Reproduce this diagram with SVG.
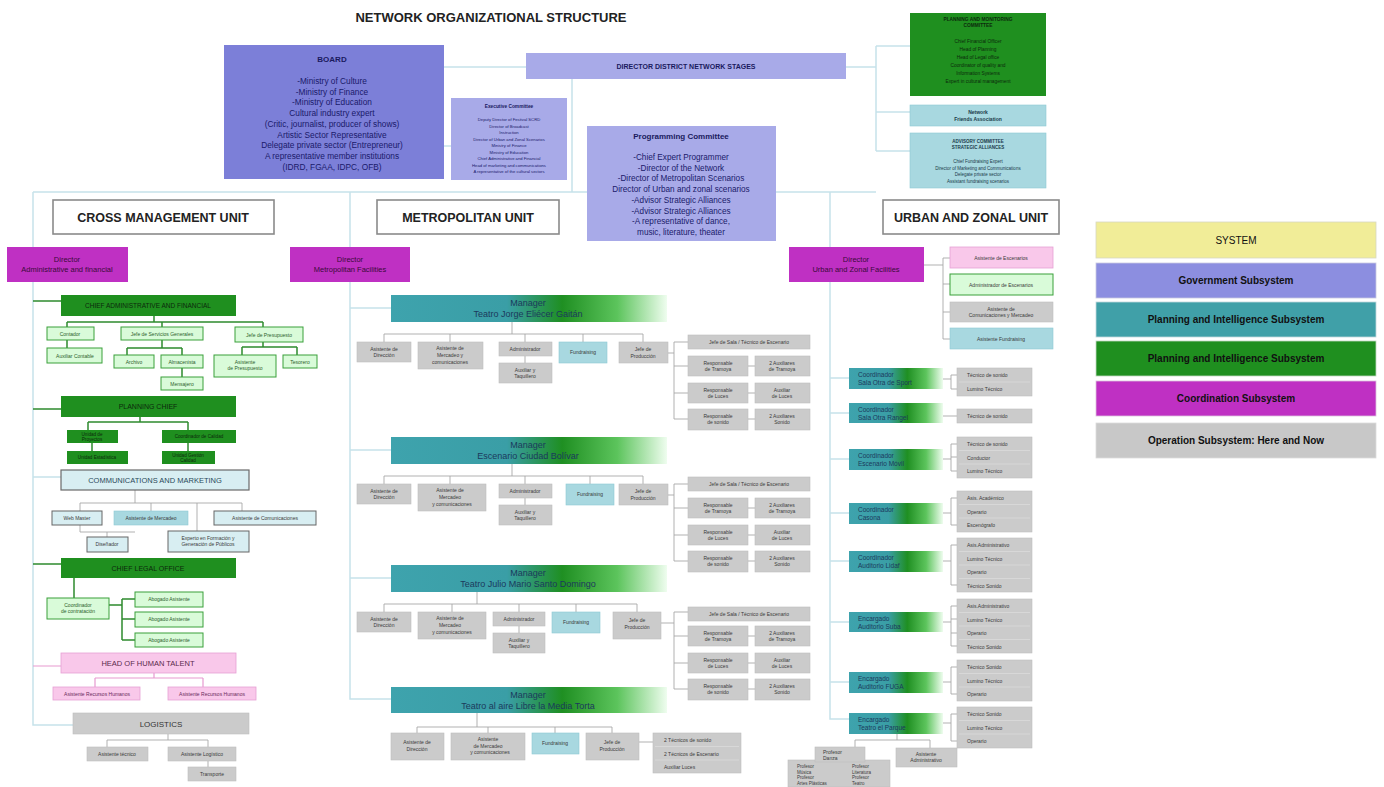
<svg xmlns="http://www.w3.org/2000/svg" width="1384" height="787" viewBox="0 0 1384 787">
<defs>
<linearGradient id="mgr" x1="0" y1="0" x2="1" y2="0">
<stop offset="0" stop-color="#3ea3ad"/>
<stop offset="0.42" stop-color="#3a9ea6"/>
<stop offset="0.62" stop-color="#1f8f22"/>
<stop offset="0.82" stop-color="#5cc45c"/>
<stop offset="1" stop-color="#effdef"/>
</linearGradient>
<style>
text{font-family:"Liberation Sans",Arial,Helvetica,sans-serif}
.c{text-anchor:middle}
.conn{fill:none;stroke:#c6e2ea;stroke-width:1.5}
.cg{fill:none;stroke:#2e8b2e;stroke-width:1.5}
.cgr{fill:none;stroke:#a8a8a8;stroke-width:0.9}
.cpk{fill:none;stroke:#e79ad0;stroke-width:1.2}
.op{fill:#cbcbcb;stroke:#bebebe;stroke-width:0.6}
.lb{fill:#a8d8e0;stroke:#8ccad4;stroke-width:0.6}
.lg{fill:#d9fbd9;stroke:#3aa03a;stroke-width:1}
.dg{fill:#1f8f1f}
.mg{fill:#bf30c3}
.pk{fill:#f9c8ea;stroke:#e6a0d4;stroke-width:0.8}
.gov{fill:#7c7fd8}
.gov2{fill:#a8aae8}
.unit{fill:#ffffff;stroke:#8a8a8a;stroke-width:1.6}
.tiny{font-size:5px;fill:#3a3a3a}
.tg{font-size:5px;fill:#2c5f2c}
.mgrt{font-size:9px;fill:#1b3a5c}
.crd{font-size:6.5px;fill:#1b3a5c}
.sep{stroke:#e0e0e0;stroke-width:0.6}
</style>
</defs>
<rect width="1384" height="787" fill="#ffffff"/>

<text x="491" y="22" class="c" style="font-size:13px;font-weight:bold;fill:#222">NETWORK ORGANIZATIONAL STRUCTURE</text>

<g id="connectors">
<!-- top -->
<path class="conn" d="M444 67H526M846 67H876M876 46V151M876 46H910M876 112H910M876 151H910M572 79V192M33 192H876M444 146H451"/>
<!-- spines -->
<path class="conn" d="M33 192V725H73M350 192V699H391M830 192V719H849"/>
<!-- left column -->
<path class="cg" d="M33 301H61M154 316V322M67 322H263M67 322V327M162 322V327M263 322V327M67 340V348M162 340V348M127 348H182M127 348V355M182 348V355M182 368V377M263 342V347M242 347H297M242 347V355M297 347V355"/>
<path class="cg" d="M33 409H61M140 417V422M88 422H188M88 422V430M188 422V430M92 443V451M188 443V451"/>
<path class="conn" d="M33 477H61"/>
<path class="cgr" d="M135 490V503M80 503H242M80 503V511M151 503V511M242 503V511M80 525V532H135M107 532V537M197 503V531"/>
<path class="cg" d="M33 564H61M74 578V598M109 605H122M122 599V640M122 599H135M122 619H135M122 640H135"/>
<path class="cpk" d="M33 666H61M154 673V678M95 678H203M95 678V687M203 678V687"/>
<path class="cgr" d="M168 734V740M107 740H208M107 740V747M208 740V747M208 761V767"/>
<!-- metropolitan groups 1-3 -->
<g id="metro-conn-1">
<path class="conn" d="M350 308H391"/>
<path class="cgr" d="M512 322V334M384 334H643M384 334V342M450 334V342M525 334V342M583 334V342M643 334V342M525 356V363M668 353H674M674 342V419M674 342H688M674 366H688M674 393H688M674 419H688M748 366H755M748 393H755M748 419H755"/>
</g>
<g transform="translate(0,142)">
<path class="conn" d="M350 308H391"/>
<path class="cgr" d="M512 322V334M384 334H643M384 334V342M450 334V342M525 334V342M590 334V342M643 334V342M525 356V363M668 353H674M674 342V419M674 342H688M674 366H688M674 393H688M674 419H688M748 366H755M748 393H755M748 419H755"/>
</g>
<g transform="translate(0,270)">
<path class="conn" d="M350 308H391"/>
<path class="cgr" d="M477 322V334M384 334H637M384 334V342M452 334V342M519 334V342M576 334V342M637 334V342M519 356V363M661 353H674M674 342V419M674 342H688M674 366H688M674 393H688M674 419H688M748 366H755M748 393H755M748 419H755"/>
</g>
<!-- metropolitan group 4 -->
<path class="cgr" d="M477 713V727M417 727H612M417 727V733M488 727V733M555 727V733M612 727V733M639 742H653"/>
<!-- urban -->
<path class="cgr" d="M924 265H943M943 258V339M943 258H950M943 284H950M943 312H950M943 339H950"/>
<path class="conn" d="M830 378H849M830 413H849M830 459H849M830 513H849M830 561H849M830 622H849M830 682H849"/>
<path class="cgr" d="M943 379H951M951 375V389M951 375H957M951 389H957M943 416H957M943 459H951M951 444V471M951 444H957M951 457H957M951 471H957M943 513H951M951 498V525M951 498H957M951 525H957M943 561H951M951 545V585M951 545H957M951 585H957M943 622H951M951 606V646M951 606H957M951 619H957M951 633H957M951 646H957M943 682H951M951 667V694M951 667H957M951 694H957M943 723H951M951 714V741M951 714H957M951 741H957M897 734V740M855 740H930M855 740V747M930 740V748"/>
</g>

<!-- Government nodes -->
<g id="board">
<rect class="gov" x="224" y="45" width="220" height="134"/>
<text x="332" y="62" class="c" style="font-size:8px;font-weight:bold;fill:#1a1a5e">BOARD</text>
<g class="c" style="font-size:8.3px;fill:#1a1a6a">
<text x="332" y="84">-Ministry of Culture</text>
<text x="332" y="94.7">-Ministry of Finance</text>
<text x="332" y="105.4">-Ministry of Education</text>
<text x="332" y="116.1">Cultural industry expert</text>
<text x="332" y="126.8">(Critic, journalist, producer of shows)</text>
<text x="332" y="137.5">Artistic Sector Representative</text>
<text x="332" y="148.2">Delegate private sector (Entrepreneur)</text>
<text x="332" y="158.9">A representative member institutions</text>
<text x="332" y="169.6">(IDRD, FGAA, IDPC, OFB)</text>
</g>
</g>
<g id="director-district">
<rect class="gov2" x="526" y="53" width="320" height="26"/>
<text x="686" y="69" class="c" style="font-size:7px;font-weight:bold;fill:#1a1a5e">DIRECTOR DISTRICT NETWORK STAGES</text>
</g>
<g id="executive-committee">
<rect class="gov2" x="451" y="98" width="116" height="82"/>
<text x="509" y="108" class="c" style="font-size:4.8px;font-weight:bold;fill:#1a1a5e">Executive Committee</text>
<g class="c" style="font-size:4.2px;fill:#1a1a6a">
<text x="509" y="121">Deputy Director of Festival SCRD</text>
<text x="509" y="127.5">Director of Broadcast</text>
<text x="509" y="134">Instruction</text>
<text x="509" y="140.5">Director of Urban and Zonal Scenarios</text>
<text x="509" y="147">Ministry of Finance</text>
<text x="509" y="153.5">Ministry of Education</text>
<text x="509" y="160">Chief Administrative and Financial</text>
<text x="509" y="166.5">Head of marketing and communications</text>
<text x="509" y="173">A representative of the cultural sectors</text>
</g>
</g>
<g id="programming-committee">
<rect class="gov2" x="587" y="126" width="189" height="115"/>
<text x="681" y="139" class="c" style="font-size:8px;font-weight:bold;fill:#1a1a5e">Programming Committee</text>
<g class="c" style="font-size:8.2px;fill:#1a1a6a">
<text x="681" y="160">-Chief Expert Programmer</text>
<text x="681" y="170.7">-Director of the Network</text>
<text x="681" y="181.4">-Director of Metropolitan Scenarios</text>
<text x="681" y="192.1">Director of Urban and zonal scenarios</text>
<text x="681" y="202.8">-Advisor Strategic Alliances</text>
<text x="681" y="213.5">-Advisor Strategic Alliances</text>
<text x="681" y="224.2">-A representative of dance,</text>
<text x="681" y="234.9">music, literature, theater</text>
</g>
</g>
<g id="planning-monitoring-committee">
<rect class="dg" x="910" y="13" width="136" height="83"/>
<g class="c" style="font-size:4.8px;fill:#0c2a0c">
<text x="978" y="21" style="font-weight:bold">PLANNING AND MONITORING</text>
<text x="978" y="27" style="font-weight:bold">COMMITTEE</text>
<text x="978" y="43">Chief Financial Officer</text>
<text x="978" y="51">Head of Planning</text>
<text x="978" y="59">Head of Legal office</text>
<text x="978" y="67">Coordinator of quality and</text>
<text x="978" y="75">Information Systems</text>
<text x="978" y="83">Expert in cultural management</text>
</g>
</g>
<g id="network-friends">
<rect class="lb" x="910" y="105" width="136" height="21"/>
<text x="978" y="114" class="c" style="font-size:5px;font-weight:bold;fill:#1a3a4a">Network</text>
<text x="978" y="121" class="c" style="font-size:5px;font-weight:bold;fill:#1a3a4a">Friends Association</text>
</g>
<g id="advisory-committee">
<rect class="lb" x="910" y="133" width="136" height="55"/>
<g class="c" style="font-size:4.5px;fill:#1a3a4a">
<text x="978" y="143" style="font-weight:bold">ADVISORY COMMITTEE</text>
<text x="978" y="149" style="font-weight:bold">STRATEGIC ALLIANCES</text>
<text x="978" y="163">Chief Fundraising Expert</text>
<text x="978" y="169.5">Director of Marketing and Communications</text>
<text x="978" y="176">Delegate private sector</text>
<text x="978" y="182.5">Assistant fundraising scenarios</text>
</g>
</g>

<!-- Unit titles -->
<g id="unit-cross">
<rect class="unit" x="53" y="200" width="221" height="34"/>
<text x="163" y="222" class="c" style="font-size:12.5px;font-weight:bold;fill:#222">CROSS MANAGEMENT UNIT</text>
</g>
<g id="unit-metro">
<rect class="unit" x="377" y="200" width="182" height="34"/>
<text x="468" y="222" class="c" style="font-size:12.5px;font-weight:bold;fill:#222">METROPOLITAN UNIT</text>
</g>
<g id="unit-urban">
<rect class="unit" x="883" y="200" width="176" height="34"/>
<text x="971" y="222" class="c" style="font-size:12.5px;font-weight:bold;fill:#222">URBAN AND ZONAL UNIT</text>
</g>

<!-- Directors -->
<g id="dir-admin">
<rect class="mg" x="7" y="247" width="121" height="35"/>
<text x="67" y="262" class="c" style="font-size:7.5px;fill:#3a0a3a">Director</text>
<text x="67" y="272" class="c" style="font-size:7.5px;fill:#3a0a3a">Administrative and financial</text>
</g>
<g id="dir-metro">
<rect class="mg" x="290" y="247" width="120" height="35"/>
<text x="350" y="262" class="c" style="font-size:7.5px;fill:#3a0a3a">Director</text>
<text x="350" y="272" class="c" style="font-size:7.5px;fill:#3a0a3a">Metropolitan Facilities</text>
</g>
<g id="dir-urban">
<rect class="mg" x="789" y="247" width="135" height="35"/>
<text x="856" y="262" class="c" style="font-size:7.5px;fill:#3a0a3a">Director</text>
<text x="856" y="272" class="c" style="font-size:7.5px;fill:#3a0a3a">Urban and Zonal Facilities</text>
</g>

<!-- Left column -->
<g id="chief-admin">
<rect class="dg" x="61" y="295" width="175" height="21"/>
<text x="148" y="308" class="c" style="font-size:6.5px;fill:#0c2a0c">CHIEF ADMINISTRATIVE AND FINANCIAL</text>
</g>
<g id="admin-children" class="c">
<rect class="lg" x="47" y="327" width="47" height="13"/><text class="tg" x="70" y="335.5">Contador</text>
<rect class="lg" x="47" y="348" width="55" height="15"/><text class="tg" x="75" y="357.5">Auxiliar Contable</text>
<rect class="lg" x="121" y="327" width="82" height="13"/><text class="tg" x="162" y="335.5">Jefe de Servicios Generales</text>
<rect class="lg" x="114" y="355" width="40" height="13"/><text class="tg" x="134" y="363.5">Archivo</text>
<rect class="lg" x="161" y="355" width="42" height="13"/><text class="tg" x="182" y="363.5">Almacenista</text>
<rect class="lg" x="161" y="377" width="42" height="13"/><text class="tg" x="182" y="385.5">Mensajero</text>
<rect class="lg" x="235" y="327" width="68" height="15"/><text class="tg" x="269" y="336.5">Jefe de Presupuesto</text>
<rect class="lg" x="214" y="355" width="62" height="22"/><text class="tg" x="245" y="364">Asistente</text><text class="tg" x="245" y="370">de Presupuesto</text>
<rect class="lg" x="283" y="355" width="34" height="13"/><text class="tg" x="300" y="363.5">Tesorero</text>
</g>
<g id="planning-chief">
<rect class="dg" x="61" y="396" width="175" height="21"/>
<text x="148" y="409" class="c" style="font-size:7px;fill:#0c2a0c">PLANNING CHIEF</text>
</g>
<g id="planning-children" class="c" style="font-size:4.6px;fill:#0c2a0c">
<rect class="dg" x="67" y="430" width="51" height="13"/><text x="92" y="435.5">Unidad de</text><text x="92" y="441">Proyectos</text>
<rect class="dg" x="67" y="451" width="61" height="13"/><text x="97" y="459">Unidad Estadística</text>
<rect class="dg" x="162" y="430" width="74" height="13"/><text x="199" y="438">Coordinador de Calidad</text>
<rect class="dg" x="162" y="451" width="53" height="13"/><text x="188" y="456.5">Unidad Gestión</text><text x="188" y="462">Calidad</text>
</g>
<g id="communications">
<rect x="61" y="470" width="188" height="20" fill="#d8eef2" stroke="#6a6a6a" stroke-width="1.2"/>
<text x="155" y="483" class="c" style="font-size:7.5px;fill:#2a4a5a">COMMUNICATIONS AND MARKETING</text>
</g>
<g id="comm-children" class="c">
<rect x="52" y="511" width="50" height="14" fill="#d8eef2" stroke="#666" stroke-width="1"/><text class="tiny" x="77" y="519.5">Web Master</text>
<rect x="114" y="511" width="74" height="14" fill="#a8d8e0" stroke="#8ccad4" stroke-width="0.6"/><text class="tiny" x="151" y="519.5">Asistente de Mercadeo</text>
<rect x="214" y="511" width="102" height="14" fill="#d8eef2" stroke="#666" stroke-width="1"/><text class="tiny" x="265" y="519.5">Asistente de Comunicaciones</text>
<rect x="87" y="537" width="41" height="15" fill="#d8eef2" stroke="#666" stroke-width="1"/><text class="tiny" x="107" y="546">Diseñador</text>
<rect x="168" y="531" width="81" height="21" fill="#d8eef2" stroke="#666" stroke-width="1"/><text class="tiny" x="208" y="540">Experto en Formación y</text><text class="tiny" x="208" y="546">Generación de Públicos</text>
</g>
<g id="chief-legal">
<rect class="dg" x="61" y="558" width="175" height="20"/>
<text x="148" y="570.5" class="c" style="font-size:7px;fill:#0c2a0c">CHIEF LEGAL OFFICE</text>
</g>
<g id="legal-children" class="c">
<rect class="lg" x="47" y="598" width="62" height="21"/><text class="tg" x="78" y="607">Coordinador</text><text class="tg" x="78" y="613">de contratación</text>
<rect class="lg" x="135" y="592" width="68" height="15"/><text class="tg" x="169" y="601">Abogado Asistente</text>
<rect class="lg" x="135" y="612" width="68" height="15"/><text class="tg" x="169" y="621">Abogado Asistente</text>
<rect class="lg" x="135" y="633" width="68" height="14"/><text class="tg" x="169" y="641.5">Abogado Asistente</text>
</g>
<g id="human-talent">
<rect class="pk" x="61" y="653" width="175" height="20"/>
<text x="148" y="666" class="c" style="font-size:7.5px;fill:#5a2a4a">HEAD OF HUMAN TALENT</text>
</g>
<g id="hr-children" class="c">
<rect class="pk" x="53" y="687" width="87" height="13"/><text class="tiny" x="97" y="695.5" style="fill:#6a2a5a">Asistente Recursos Humanos</text>
<rect class="pk" x="168" y="687" width="88" height="13"/><text class="tiny" x="212" y="695.5" style="fill:#6a2a5a">Asistente Recursos Humanos</text>
</g>
<g id="logistics">
<rect class="op" x="73" y="713" width="176" height="21"/>
<text x="161" y="726.5" class="c" style="font-size:8px;fill:#333">LOGISTICS</text>
</g>
<g id="logistics-children" class="c">
<rect class="op" x="87" y="747" width="61" height="14"/><text class="tiny" x="117" y="755.5">Asistente técnico</text>
<rect class="op" x="168" y="747" width="68" height="14"/><text class="tiny" x="202" y="755.5">Asistente Logístico</text>
<rect class="op" x="188" y="767" width="48" height="14"/><text class="tiny" x="212" y="775.5">Transporte</text>
</g>

<!-- Metropolitan groups -->
<g id="metro-gaitan">
<rect x="391" y="295" width="276" height="27" fill="url(#mgr)"/>
<text class="mgrt c" x="528" y="306">Manager</text>
<text class="mgrt c" x="528" y="317">Teatro Jorge Eliécer Gaitán</text>
<g class="c">
<rect class="op" x="357" y="342" width="54" height="20"/><text class="tiny" x="384" y="350.5">Asistente de</text><text class="tiny" x="384" y="357">Dirección</text>
<rect class="op" x="418" y="342" width="65" height="27"/><text class="tiny" x="450" y="350">Asistente de</text><text class="tiny" x="450" y="357">Mercadeo y</text><text class="tiny" x="450" y="364">comunicaciones</text>
<rect class="op" x="499" y="342" width="53" height="14"/><text class="tiny" x="525" y="351">Administrador</text>
<rect class="op" x="499" y="363" width="53" height="20"/><text class="tiny" x="525" y="371.5">Auxiliar y</text><text class="tiny" x="525" y="378">Taquillero</text>
<rect class="lb" x="559" y="342" width="48" height="21"/><text class="tiny" x="583" y="354">Fundraising</text>
<rect class="op" x="619" y="342" width="49" height="21"/><text class="tiny" x="643" y="350.5">Jefe de</text><text class="tiny" x="643" y="357.5">Producción</text>
<rect class="op" x="688" y="335" width="122" height="14"/><text class="tiny" x="749" y="344">Jefe de Sala / Técnico de Escenario</text>
<rect class="op" x="688" y="356" width="60" height="20"/><text class="tiny" x="718" y="364.5">Responsable</text><text class="tiny" x="718" y="371">de Tramoya</text>
<rect class="op" x="755" y="356" width="55" height="20"/><text class="tiny" x="782" y="364.5">2 Auxiliares</text><text class="tiny" x="782" y="371">de Tramoya</text>
<rect class="op" x="688" y="383" width="60" height="20"/><text class="tiny" x="718" y="391.5">Responsable</text><text class="tiny" x="718" y="398">de Luces</text>
<rect class="op" x="755" y="383" width="55" height="20"/><text class="tiny" x="782" y="391.5">Auxiliar</text><text class="tiny" x="782" y="398">de Luces</text>
<rect class="op" x="688" y="409" width="60" height="21"/><text class="tiny" x="718" y="417.5">Responsable</text><text class="tiny" x="718" y="424">de sonido</text>
<rect class="op" x="755" y="409" width="55" height="21"/><text class="tiny" x="782" y="417.5">2 Auxiliares</text><text class="tiny" x="782" y="424">Sonido</text>
</g>
</g>
<g id="metro-bolivar" transform="translate(0,142)">
<rect x="391" y="295" width="276" height="27" fill="url(#mgr)"/>
<text class="mgrt c" x="528" y="306">Manager</text>
<text class="mgrt c" x="528" y="317">Escenario Ciudad Bolívar</text>
<g class="c">
<rect class="op" x="357" y="342" width="54" height="20"/><text class="tiny" x="384" y="350.5">Asistente de</text><text class="tiny" x="384" y="357">Dirección</text>
<rect class="op" x="418" y="342" width="68" height="27"/><text class="tiny" x="450" y="350">Asistente de</text><text class="tiny" x="450" y="357">Mercadeo</text><text class="tiny" x="452" y="364">y comunicaciones</text>
<rect class="op" x="499" y="342" width="53" height="14"/><text class="tiny" x="525" y="351">Administrador</text>
<rect class="op" x="499" y="363" width="53" height="20"/><text class="tiny" x="525" y="371.5">Auxiliar y</text><text class="tiny" x="525" y="378">Taquillero</text>
<rect class="lb" x="566" y="342" width="48" height="21"/><text class="tiny" x="590" y="354">Fundraising</text>
<rect class="op" x="619" y="342" width="49" height="21"/><text class="tiny" x="643" y="350.5">Jefe de</text><text class="tiny" x="643" y="357.5">Producción</text>
<rect class="op" x="688" y="335" width="122" height="14"/><text class="tiny" x="749" y="344">Jefe de Sala / Técnico de Escenario</text>
<rect class="op" x="688" y="356" width="60" height="20"/><text class="tiny" x="718" y="364.5">Responsable</text><text class="tiny" x="718" y="371">de Tramoya</text>
<rect class="op" x="755" y="356" width="55" height="20"/><text class="tiny" x="782" y="364.5">2 Auxiliares</text><text class="tiny" x="782" y="371">de Tramoya</text>
<rect class="op" x="688" y="383" width="60" height="20"/><text class="tiny" x="718" y="391.5">Responsable</text><text class="tiny" x="718" y="398">de Luces</text>
<rect class="op" x="755" y="383" width="55" height="20"/><text class="tiny" x="782" y="391.5">Auxiliar</text><text class="tiny" x="782" y="398">de Luces</text>
<rect class="op" x="688" y="409" width="60" height="21"/><text class="tiny" x="718" y="417.5">Responsable</text><text class="tiny" x="718" y="424">de sonido</text>
<rect class="op" x="755" y="409" width="55" height="21"/><text class="tiny" x="782" y="417.5">2 Auxiliares</text><text class="tiny" x="782" y="424">Sonido</text>
</g>
</g>
<g id="metro-santodomingo" transform="translate(0,270)">
<rect x="391" y="295" width="276" height="27" fill="url(#mgr)"/>
<text class="mgrt c" x="528" y="306">Manager</text>
<text class="mgrt c" x="528" y="317">Teatro Julio Mario Santo Domingo</text>
<g class="c">
<rect class="op" x="357" y="342" width="54" height="20"/><text class="tiny" x="384" y="350.5">Asistente de</text><text class="tiny" x="384" y="357">Dirección</text>
<rect class="op" x="418" y="342" width="68" height="27"/><text class="tiny" x="450" y="350">Asistente de</text><text class="tiny" x="450" y="357">Mercadeo</text><text class="tiny" x="452" y="364">y comunicaciones</text>
<rect class="op" x="493" y="342" width="52" height="14"/><text class="tiny" x="519" y="351">Administrador</text>
<rect class="op" x="493" y="363" width="52" height="20"/><text class="tiny" x="519" y="371.5">Auxiliar y</text><text class="tiny" x="519" y="378">Taquillero</text>
<rect class="lb" x="552" y="342" width="48" height="21"/><text class="tiny" x="576" y="354">Fundraising</text>
<rect class="op" x="613" y="342" width="48" height="27"/><text class="tiny" x="637" y="352">Jefe de</text><text class="tiny" x="637" y="359">Producción</text>
<rect class="op" x="688" y="337" width="122" height="14"/><text class="tiny" x="749" y="346">Jefe de Sala / Técnico de Escenario</text>
<rect class="op" x="688" y="356" width="60" height="20"/><text class="tiny" x="718" y="364.5">Responsable</text><text class="tiny" x="718" y="371">de Tramoya</text>
<rect class="op" x="755" y="356" width="55" height="20"/><text class="tiny" x="782" y="364.5">2 Auxiliares</text><text class="tiny" x="782" y="371">de Tramoya</text>
<rect class="op" x="688" y="383" width="60" height="20"/><text class="tiny" x="718" y="391.5">Responsable</text><text class="tiny" x="718" y="398">de Luces</text>
<rect class="op" x="755" y="383" width="55" height="20"/><text class="tiny" x="782" y="391.5">Auxiliar</text><text class="tiny" x="782" y="398">de Luces</text>
<rect class="op" x="688" y="409" width="60" height="21"/><text class="tiny" x="718" y="417.5">Responsable</text><text class="tiny" x="718" y="424">de sonido</text>
<rect class="op" x="755" y="409" width="55" height="21"/><text class="tiny" x="782" y="417.5">2 Auxiliares</text><text class="tiny" x="782" y="424">Sonido</text>
</g>
</g>
<g id="metro-mediatorta">
<rect x="391" y="687" width="276" height="26" fill="url(#mgr)"/>
<text class="mgrt c" x="528" y="698">Manager</text>
<text class="mgrt c" x="528" y="709">Teatro al aire Libre la Media Torta</text>
<g class="c">
<rect class="op" x="391" y="733" width="53" height="27"/><text class="tiny" x="417" y="744">Asistente de</text><text class="tiny" x="417" y="751">Dirección</text>
<rect class="op" x="451" y="733" width="74" height="27"/><text class="tiny" x="488" y="741">Asistente</text><text class="tiny" x="488" y="747.5">de Mercadeo</text><text class="tiny" x="490" y="754">y comunicaciones</text>
<rect class="lb" x="532" y="733" width="47" height="21"/><text class="tiny" x="555" y="745">Fundraising</text>
<rect class="op" x="586" y="733" width="53" height="27"/><text class="tiny" x="612" y="744">Jefe de</text><text class="tiny" x="612" y="751">Producción</text>
<rect class="op" x="653" y="733" width="88" height="40"/>
<path class="sep" d="M655 746.5H739M655 760H739"/>
</g>
<text class="tiny" x="664" y="742">2 Técnicos de  sonido</text>
<text class="tiny" x="664" y="755.5">2 Técnicos de Escenario</text>
<text class="tiny" x="664" y="769">Auxiliar Luces</text>
</g>

<!-- Urban -->
<g id="urban-staff" class="c">
<rect class="pk" x="950" y="247" width="103" height="21"/><text class="tiny" x="1001" y="259.5">Asistente de Escenarios</text>
<rect class="lg" x="950" y="274" width="103" height="21"/><text class="tiny" x="1001" y="286.5">Administrador de Escenarios</text>
<rect class="op" x="950" y="302" width="103" height="20"/><text class="tiny" x="1001" y="310.5">Asistente de</text><text class="tiny" x="1001" y="317">Comunicaciones y Mercadeo</text>
<rect class="lb" x="950" y="328" width="103" height="21"/><text class="tiny" x="1001" y="340.5">Asistente Fundraising</text>
</g>
<g id="coord-1">
<rect x="849" y="368" width="94" height="21" fill="url(#mgr)"/>
<text class="crd" x="858" y="377">Coordinador</text><text class="crd" x="858" y="385">Sala Otra de Sport</text>
<rect class="op" x="957" y="368" width="75" height="28"/><path class="sep" d="M959 382H1030"/>
<text class="tiny" x="967" y="377">Técnico de  sonido</text><text class="tiny" x="967" y="391">Lumino Técnico</text>
</g>
<g id="coord-2">
<rect x="849" y="403" width="94" height="20" fill="url(#mgr)"/>
<text class="crd" x="858" y="411.5">Coordinador</text><text class="crd" x="858" y="419.5">Sala Otra Rangel</text>
<rect class="op" x="957" y="409" width="75" height="14"/>
<text class="tiny" x="967" y="418">Técnico de  sonido</text>
</g>
<g id="coord-3">
<rect x="849" y="449" width="94" height="21" fill="url(#mgr)"/>
<text class="crd" x="858" y="458">Coordinador</text><text class="crd" x="858" y="466">Escenario Móvil</text>
<rect class="op" x="957" y="437" width="75" height="41"/><path class="sep" d="M959 450.5H1030M959 464H1030"/>
<text class="tiny" x="967" y="446">Técnico de  sonido</text><text class="tiny" x="967" y="459.5">Conductor</text><text class="tiny" x="967" y="473">Lumino Técnico</text>
</g>
<g id="coord-4">
<rect x="849" y="503" width="94" height="21" fill="url(#mgr)"/>
<text class="crd" x="858" y="512">Coordinador</text><text class="crd" x="858" y="520">Casona</text>
<rect class="op" x="957" y="491" width="75" height="41"/><path class="sep" d="M959 504.5H1030M959 518H1030"/>
<text class="tiny" x="967" y="500">Asis. Académico</text><text class="tiny" x="967" y="513.5">Operario</text><text class="tiny" x="967" y="527">Escenógrafo</text>
</g>
<g id="coord-5">
<rect x="849" y="551" width="94" height="21" fill="url(#mgr)"/>
<text class="crd" x="858" y="560">Coordinador</text><text class="crd" x="858" y="568">Auditorio Lidaf</text>
<rect class="op" x="957" y="538" width="75" height="54"/><path class="sep" d="M959 551.5H1030M959 565H1030M959 578.5H1030"/>
<text class="tiny" x="967" y="547">Asis.Administrativo</text><text class="tiny" x="967" y="560.5">Lumino Técnico</text><text class="tiny" x="967" y="574">Operario</text><text class="tiny" x="967" y="587.5">Técnico Sonido</text>
</g>
<g id="coord-6">
<rect x="849" y="612" width="94" height="20" fill="url(#mgr)"/>
<text class="crd" x="858" y="620.5">Encargado</text><text class="crd" x="858" y="628.5">Auditorio Suba</text>
<rect class="op" x="957" y="599" width="75" height="54"/><path class="sep" d="M959 612.5H1030M959 626H1030M959 639.5H1030"/>
<text class="tiny" x="967" y="608">Asis.Administrativo</text><text class="tiny" x="967" y="621.5">Lumino Técnico</text><text class="tiny" x="967" y="635">Operario</text><text class="tiny" x="967" y="648.5">Técnico Sonido</text>
</g>
<g id="coord-7">
<rect x="849" y="672" width="94" height="21" fill="url(#mgr)"/>
<text class="crd" x="858" y="681">Encargado</text><text class="crd" x="858" y="689">Auditorio FUGA</text>
<rect class="op" x="957" y="660" width="75" height="41"/><path class="sep" d="M959 673.5H1030M959 687H1030"/>
<text class="tiny" x="967" y="669">Técnico Sonido</text><text class="tiny" x="967" y="682.5">Lumino Técnico</text><text class="tiny" x="967" y="696">Operario</text>
</g>
<g id="coord-8">
<rect x="849" y="713" width="94" height="21" fill="url(#mgr)"/>
<text class="crd" x="858" y="722">Encargado</text><text class="crd" x="858" y="730">Teatro el Parque</text>
<rect class="op" x="957" y="707" width="75" height="41"/><path class="sep" d="M959 720.5H1030M959 734H1030"/>
<text class="tiny" x="967" y="716">Técnico Sonido</text><text class="tiny" x="967" y="729.5">Lumino Técnico</text><text class="tiny" x="967" y="743">Operario</text>
</g>
<g id="parque-staff">
<rect class="op" x="788" y="760" width="102" height="27"/>
<rect class="op" x="815" y="747" width="50" height="15"/>
<text class="tiny" x="823" y="753.5">Profesor</text><text class="tiny" x="823" y="759.5">Danza</text>
<g style="font-size:4.5px;fill:#3a3a3a">
<text x="797" y="768">Profesor</text><text x="797" y="773.5">Música</text><text x="797" y="779">Profesor</text><text x="797" y="784.5">Artes Plásticas</text>
<text x="852" y="768">Profesor</text><text x="852" y="773.5">Literatura</text><text x="852" y="779">Profesor</text><text x="852" y="784.5">Teatro</text>
</g>
<rect class="op" x="896" y="748" width="61" height="19"/>
<text class="tiny c" x="926" y="756">Asistente</text><text class="tiny c" x="926" y="762">Administrativo</text>
</g>

<!-- Legend -->
<g id="legend" class="c" style="font-size:10px;font-weight:bold;fill:#111">
<rect x="1096" y="222" width="280" height="36" fill="#f1ed98" stroke="#d8d8c0" stroke-width="0.8"/>
<text x="1236" y="244" style="font-weight:normal">SYSTEM</text>
<rect x="1096" y="263" width="280" height="35" fill="#8c8ee0" stroke="#c8c8e0" stroke-width="0.8"/>
<text x="1236" y="284">Government Subsystem</text>
<rect x="1096" y="302" width="280" height="35" fill="#40a0a8" stroke="#c0d8dc" stroke-width="0.8"/>
<text x="1236" y="323">Planning and Intelligence Subsystem</text>
<rect x="1096" y="341" width="280" height="35" fill="#1f8f1f" stroke="#c0d8c0" stroke-width="0.8"/>
<text x="1236" y="362">Planning and Intelligence Subsystem</text>
<rect x="1096" y="381" width="280" height="35" fill="#bf30c3" stroke="#dcc0dc" stroke-width="0.8"/>
<text x="1236" y="402">Coordination  Subsystem</text>
<rect x="1096" y="423" width="280" height="35" fill="#c8c8c8" stroke="#dcdcdc" stroke-width="0.8"/>
<text x="1236" y="444">Operation Subsystem: Here and Now</text>
</g>
</svg>
